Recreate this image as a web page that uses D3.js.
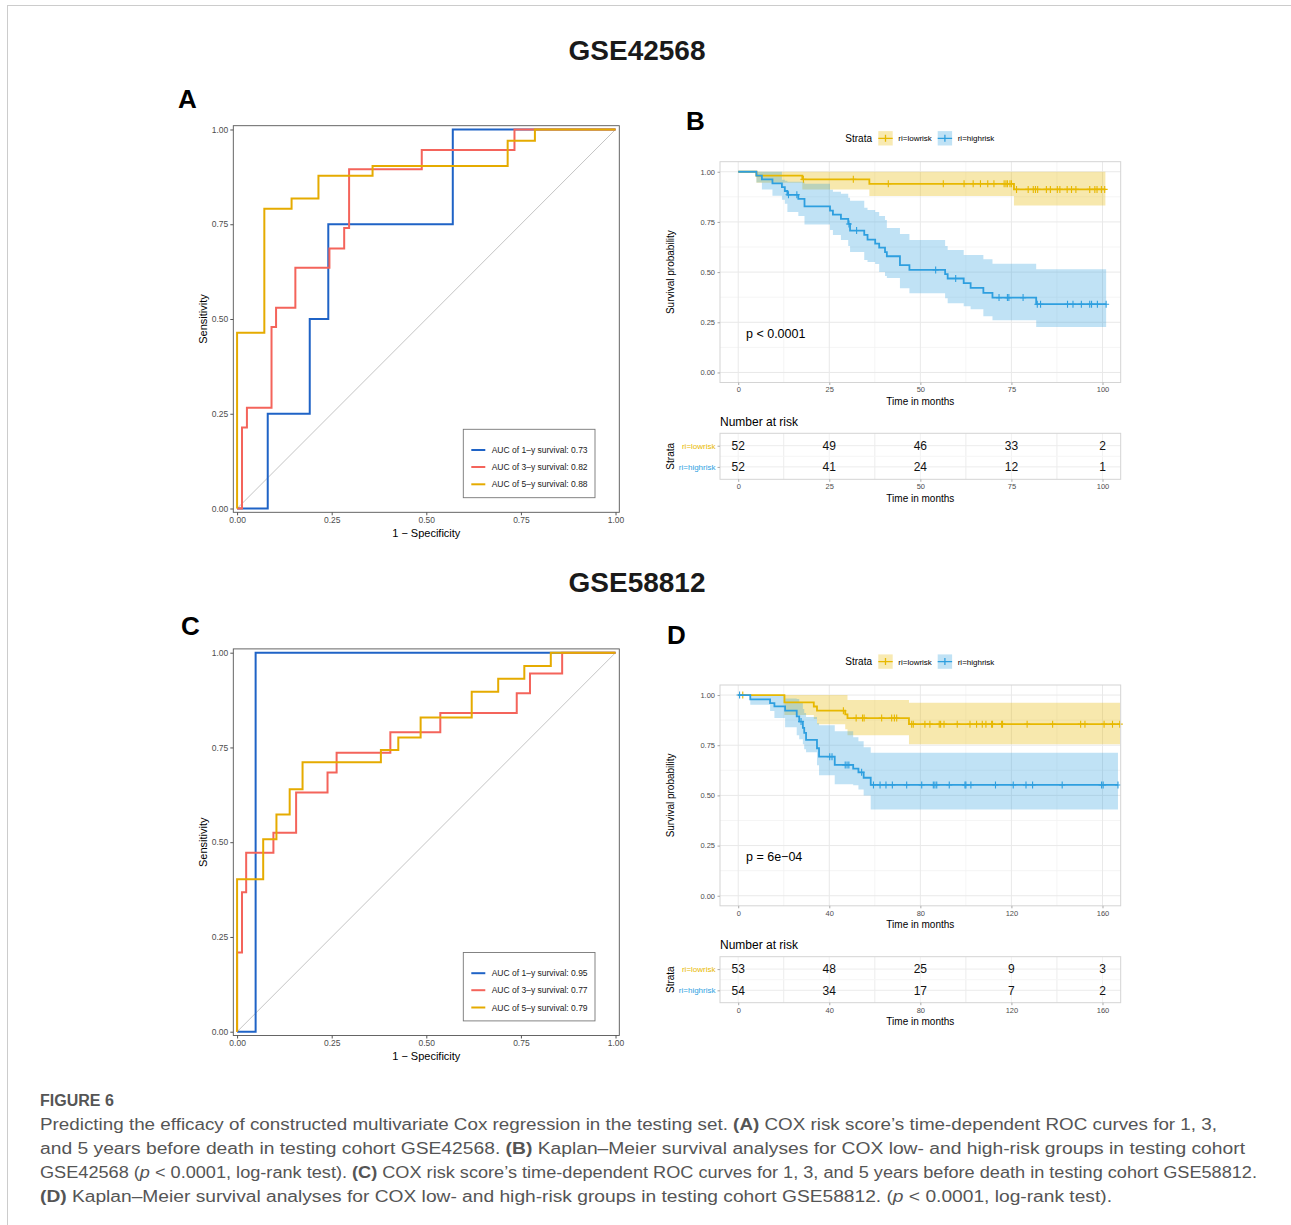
<!DOCTYPE html>
<html>
<head>
<meta charset="utf-8">
<script src="https://cdn.jsdelivr.net/npm/d3@7"></script>
<style>
  body { margin: 0; background: #fff; }
  svg text { font-family: "Liberation Sans", Arial, Helvetica, sans-serif; }
</style>
</head>
<body>
<svg id="fig" width="1291" height="1225"></svg>
<script>
// ---------- data ----------
const cohorts = ["GSE42568", "GSE58812"];
const panelLetters = ["A", "B", "C", "D"];

// ROC curves: corner points [1 - specificity, sensitivity]
const rocLabels = ["AUC of 1\u2013y survival", "AUC of 3\u2013y survival", "AUC of 5\u2013y survival"];
const rocTicks = [0, 0.25, 0.5, 0.75, 1];
const aucA = [0.73, 0.82, 0.88];
const aucC = [0.95, 0.77, 0.79];
const rocA1 = [[0, 0], [0.081, 0.25], [0.192, 0.5], [0.241, 0.75], [0.570, 1], [1, 1]];
const rocA3 = [[0, 0], [0.013, 0.214], [0.026, 0.266], [0.091, 0.479], [0.103, 0.530], [0.154, 0.635],
               [0.244, 0.686], [0.283, 0.740], [0.296, 0.895], [0.488, 0.946], [0.733, 1], [1, 1]];
const rocA5 = [[0, 0], [0, 0.4635], [0.072, 0.791], [0.144, 0.818], [0.215, 0.878], [0.358, 0.904],
               [0.715, 0.970], [0.787, 1], [1, 1]];
const rocC1 = [[0, 0], [0.049, 1], [1, 1]];
const rocC3 = [[0, 0], [0, 0.209], [0.013, 0.368], [0.024, 0.472], [0.096, 0.525], [0.156, 0.631],
               [0.239, 0.684], [0.263, 0.736], [0.405, 0.790], [0.537, 0.841], [0.739, 0.893],
               [0.774, 0.945], [0.859, 1], [1, 1]];
const rocC5 = [[0, 0], [0, 0.402], [0.069, 0.508], [0.104, 0.573], [0.139, 0.640], [0.173, 0.711],
               [0.380, 0.743], [0.426, 0.776], [0.485, 0.829], [0.620, 0.897], [0.690, 0.931],
               [0.759, 0.965], [0.829, 1], [1, 1]];

// Kaplan-Meier: step times, survival, CI lower/upper, censor times, last time
const strataNames = ["ri=lowrisk", "ri=highrisk"];
const surTicks = [0, 0.25, 0.5, 0.75, 1];

const bLowT = [0, 5.0, 17.6, 36.0, 75.7];
const bLowS = [1, 0.981, 0.962, 0.940, 0.912];
const bLowLo = [1, 0.945, 0.912, 0.879, 0.832];
const bLowHi = [1, 1, 1, 1, 1];
const bLowEnd = 100.8;
const bLowCens = [17.9, 31.6, 41.2, 56.3, 62.0, 64.5, 66.5, 68.5, 70.2, 73.0, 73.5, 73.9, 74.6, 75.0,
                  76.4, 79.6, 81.0, 81.6, 82.2, 84.6, 85.7, 87.6, 88.3, 90.3, 91.5, 92.7, 96.5, 97.9,
                  98.5, 99.7, 100.6];

const bHighT = [0, 5.0, 6.5, 9.4, 12.0, 12.8, 13.5, 16.5, 18.2, 25.2, 26.0, 28.2, 30.2, 30.7, 34.6,
                35.5, 37.6, 38.7, 40.3, 40.8, 44.4, 47.0, 56.8, 57.5, 61.9, 63.8, 67.3, 69.8, 81.8];
const bHighS = [1, 0.981, 0.962, 0.942, 0.923, 0.904, 0.885, 0.865, 0.827, 0.806, 0.786, 0.765, 0.740,
                0.707, 0.685, 0.662, 0.642, 0.622, 0.600, 0.579, 0.535, 0.511, 0.490, 0.468, 0.445,
                0.421, 0.397, 0.373, 0.340];
const bHighLo = [1, 0.947, 0.912, 0.88, 0.86, 0.84, 0.80, 0.78, 0.737, 0.71, 0.685, 0.66, 0.63, 0.60,
                 0.56, 0.55, 0.54, 0.50, 0.48, 0.47, 0.42, 0.395, 0.37, 0.345, 0.33, 0.315, 0.28, 0.26,
                 0.226];
const bHighHi = [1, 1, 1, 1, 0.96, 0.955, 0.95, 0.95, 0.94, 0.91, 0.90, 0.89, 0.87, 0.855, 0.82, 0.81,
                 0.80, 0.78, 0.76, 0.72, 0.69, 0.66, 0.63, 0.61, 0.585, 0.585, 0.564, 0.541, 0.514];
const bHighEnd = 101.0;
const bHighCens = [13.8, 16.1, 30.4, 32.5, 54.2, 59.7, 71.6, 73.9, 74.3, 78.2, 82.1, 83.0, 90.4, 91.9,
                   94.2, 96.5, 97.0, 98.6, 101.0];

const dLowT = [0, 20.3, 33.2, 34.6, 47.0, 48.0, 75.0];
const dLowS = [1, 0.963, 0.943, 0.922, 0.904, 0.885, 0.855];
const dLowLo = [1, 0.90, 0.88, 0.855, 0.83, 0.80, 0.755];
const dLowHi = [1, 1, 1, 1, 1, 0.975, 0.962];
const dLowEnd = 167.8;
const dLowCens = [2.0, 46.2, 51.8, 54.6, 55.3, 63.0, 67.4, 68.6, 69.6, 76.2, 76.9, 82.0, 84.2, 88.3,
                  88.9, 90.4, 96.2, 101.8, 104.7, 107.2, 108.8, 111.3, 111.7, 115.7, 116.1, 126.9,
                  138.1, 150.4, 152.3, 160.7, 164.4, 167.6];

const dHighT = [0, 5.3, 14.0, 15.9, 20.6, 25.7, 26.8, 28.4, 29.0, 29.8, 34.6, 35.5, 42.4, 50.5, 52.8,
                55.1, 58.2];
const dHighS = [1, 0.978, 0.96, 0.944, 0.922, 0.894, 0.868, 0.836, 0.811, 0.777, 0.735, 0.693, 0.652,
                0.633, 0.615, 0.588, 0.552];
const dHighLo = [1, 0.952, 0.92, 0.886, 0.84, 0.80, 0.78, 0.755, 0.73, 0.715, 0.65, 0.60, 0.555, 0.55,
                 0.53, 0.50, 0.43];
const dHighHi = [1, 1, 1, 1, 0.983, 0.98, 0.96, 0.93, 0.91, 0.89, 0.86, 0.85, 0.82, 0.79, 0.77, 0.74,
                 0.713];
const dHighEnd = 166.8;
const dHighCens = [0.6, 27.6, 40.2, 41.2, 47.0, 47.8, 48.6, 54.2, 59.4, 62.3, 64.9, 67.7, 74.0, 80.6,
                   85.7, 86.4, 87.2, 92.7, 99.6, 100.0, 102.2, 113.0, 120.8, 126.4, 129.3, 142.3, 159.6,
                   160.3, 166.8];

const pTextB = "p < 0.0001";
const pTextD = "p = 6e\u221204";
const timeTicksB = [0, 25, 50, 75, 100];
const timeTicksD = [0, 40, 80, 120, 160];
const riskLowB = [52, 49, 46, 33, 2];
const riskHighB = [52, 41, 24, 12, 1];
const riskLowD = [53, 48, 25, 9, 3];
const riskHighD = [54, 34, 17, 7, 2];

// caption: [text, style] segments per line
const captionTitle = "FIGURE 6";
const captionLines = [
  [["Predicting the efficacy of constructed multivariate Cox regression in the testing set. ", ""], ["(A)", "b"],
   [" COX risk score\u2019s time-dependent ROC curves for 1, 3,", ""]],
  [["and 5 years before death in testing cohort GSE42568. ", ""], ["(B)", "b"],
   [" Kaplan\u2013Meier survival analyses for COX low- and high-risk groups in testing cohort", ""]],
  [["GSE42568 (", ""], ["p", "i"], [" < 0.0001, log-rank test). ", ""], ["(C)", "b"],
   [" COX risk score\u2019s time-dependent ROC curves for 1, 3, and 5 years before death in testing cohort GSE58812.", ""]],
  [["(D)", "b"], [" Kaplan\u2013Meier survival analyses for COX low- and high-risk groups in testing cohort GSE58812. (", ""],
   ["p", "i"], [" < 0.0001, log-rank test).", ""]]
];
const captionWidths = [1177, 1205, 1217, 1072];

// ---------- styles ----------
const rocColors = ["#1f63c6", "#f4645b", "#e5ab00"];
const lowColor = "#E7B800", highColor = "#2E9FDF";
const FONT = '"Liberation Sans", Arial, Helvetica, sans-serif';

const svg = d3.select("#fig");

// light frame round the figure
svg.append("rect").attr("x", 7.5).attr("y", 5.5).attr("width", 1300).attr("height", 1300)
  .attr("fill", "none").attr("stroke", "#cccccc");

// cohort titles
[60, 592].forEach((yy, i) => {
  svg.append("text").attr("x", 637).attr("y", yy).attr("text-anchor", "middle")
    .attr("font-size", 28).attr("font-weight", "bold").attr("fill", "#1a1a1a").text(cohorts[i]);
});

// panel letters
[[178, 108], [686, 130], [181, 635], [667, 644]].forEach((p, i) => {
  svg.append("text").attr("x", p[0]).attr("y", p[1]).attr("font-size", 26)
    .attr("font-weight", "bold").attr("fill", "#000").text(panelLetters[i]);
});

function styleAxis(sel, size, color, tickColor) {
  sel.attr("font-family", FONT).attr("font-size", size);
  sel.select(".domain").remove();
  sel.selectAll(".tick line").attr("stroke", tickColor);
  sel.selectAll(".tick text").attr("fill", color);
}

// ---------- ROC panel ----------
function drawRoc(top, curves, aucs) {
  const left = 233.3, right = 619.3, bottom = top + 386.6;
  const x = d3.scaleLinear().domain([-0.01, 1.01]).range([left, right]);
  const y = d3.scaleLinear().domain([-0.01, 1.01]).range([bottom, top]);
  const g = svg.append("g");

  g.append("line").attr("x1", x(0)).attr("y1", y(0)).attr("x2", x(1)).attr("y2", y(1))
    .attr("stroke", "#c4c4c4").attr("stroke-width", 1);

  const line = d3.line().x(d => x(d[0])).y(d => y(d[1])).curve(d3.curveStepAfter);
  curves.forEach((c, i) => {
    g.append("path").attr("d", line(c)).attr("fill", "none")
      .attr("stroke", rocColors[i]).attr("stroke-width", 2);
  });

  g.append("rect").attr("x", left).attr("y", top).attr("width", right - left).attr("height", bottom - top)
    .attr("fill", "none").attr("stroke", "#555").attr("stroke-width", 0.9);

  const fmt = d3.format(".2f");
  g.append("g").attr("transform", `translate(0,${bottom})`)
    .call(d3.axisBottom(x).tickValues(rocTicks).tickFormat(fmt).tickSize(3).tickPadding(1.5))
    .call(s => styleAxis(s, 8.5, "#4d4d4d", "#555"));
  g.append("g").attr("transform", `translate(${left},0)`)
    .call(d3.axisLeft(y).tickValues(rocTicks).tickFormat(fmt).tickSize(3).tickPadding(2))
    .call(s => styleAxis(s, 8.5, "#4d4d4d", "#555"));

  g.append("text").attr("x", (left + right) / 2).attr("y", bottom + 24.3).attr("text-anchor", "middle")
    .attr("font-size", 11).text("1 \u2212 Specificity");
  g.append("text").attr("transform", `translate(206.5,${(top + bottom) / 2}) rotate(-90)`)
    .attr("text-anchor", "middle").attr("font-size", 11).text("Sensitivity");

  // legend
  const lx = 463.3, ly = top + 303.6;
  g.append("rect").attr("x", lx).attr("y", ly).attr("width", 131.7).attr("height", 68.4)
    .attr("fill", "#fff").attr("stroke", "#777").attr("stroke-width", 0.9);
  [20.7, 37.7, 55].forEach((dy, i) => {
    g.append("line").attr("x1", lx + 8).attr("x2", lx + 22).attr("y1", ly + dy).attr("y2", ly + dy)
      .attr("stroke", rocColors[i]).attr("stroke-width", 2);
    g.append("text").attr("x", lx + 28.4).attr("y", ly + dy + 3).attr("font-size", 8.5)
      .attr("fill", "#1a1a1a").text(rocLabels[i] + ": " + aucs[i].toFixed(2));
  });
}

// ---------- Kaplan-Meier panel ----------
function drawKm(top, xMax, ticks, groups, pText) {
  const left = 720, right = 1120.7, bottom = top + 220.8;
  const pad = xMax * 0.05;
  const x = d3.scaleLinear().domain([-pad, xMax + pad]).range([left, right]);
  const y = d3.scaleLinear().domain([-0.05, 1.05]).range([bottom, top]);
  const g = svg.append("g");

  // grid
  const step = ticks[1] - ticks[0];
  const minorX = ticks.slice(0, -1).map(t => t + step / 2);
  const minorY = surTicks.slice(0, -1).map(t => t + 0.125);
  g.selectAll(".mx").data(minorX).enter().append("line")
    .attr("x1", d => x(d)).attr("x2", d => x(d)).attr("y1", top).attr("y2", bottom)
    .attr("stroke", "#f3f3f3").attr("stroke-width", 0.8);
  g.selectAll(".my").data(minorY).enter().append("line")
    .attr("y1", d => y(d)).attr("y2", d => y(d)).attr("x1", left).attr("x2", right)
    .attr("stroke", "#f3f3f3").attr("stroke-width", 0.8);
  g.selectAll(".gx").data(ticks).enter().append("line")
    .attr("x1", d => x(d)).attr("x2", d => x(d)).attr("y1", top).attr("y2", bottom)
    .attr("stroke", "#e9e9e9").attr("stroke-width", 1);
  g.selectAll(".gy").data(surTicks).enter().append("line")
    .attr("y1", d => y(d)).attr("y2", d => y(d)).attr("x1", left).attr("x2", right)
    .attr("stroke", "#e9e9e9").attr("stroke-width", 1);

  const area = d3.area().x(d => x(d.t)).y0(d => y(d.lo)).y1(d => y(d.hi)).curve(d3.curveStepAfter);
  const line = d3.line().x(d => x(d.t)).y(d => y(d.s)).curve(d3.curveStepAfter);
  const pts = groups.map(gr => {
    const p = gr.t.map((t, i) => ({ t: t, s: gr.s[i], lo: gr.lo[i], hi: gr.hi[i] }));
    const last = p[p.length - 1];
    p.push({ t: gr.end, s: last.s, lo: last.lo, hi: last.hi });
    return p;
  });

  groups.forEach((gr, k) => {
    g.append("path").attr("d", area(pts[k])).attr("fill", gr.color).attr("fill-opacity", k === 0 ? 0.32 : 0.3);
  });
  groups.forEach((gr, k) => {
    g.append("path").attr("d", line(pts[k])).attr("fill", "none")
      .attr("stroke", gr.color).attr("stroke-width", 1.8);
    gr.cens.forEach(c => {
      const sv = gr.s[d3.bisectRight(gr.t, c) - 1];
      g.append("path").attr("d", `M${x(c)},${y(sv) - 3.5}v7M${x(c) - 3},${y(sv)}h6`)
        .attr("stroke", gr.color).attr("stroke-width", 1.1).attr("fill", "none");
    });
  });

  g.append("rect").attr("x", left).attr("y", top).attr("width", right - left).attr("height", bottom - top)
    .attr("fill", "none").attr("stroke", "#d4d4d4").attr("stroke-width", 1);

  g.append("g").attr("transform", `translate(0,${bottom})`)
    .call(d3.axisBottom(x).tickValues(ticks).tickSize(2.5).tickPadding(2))
    .call(s => styleAxis(s, 7.5, "#4d4d4d", "#aaa"));
  g.append("g").attr("transform", `translate(${left},0)`)
    .call(d3.axisLeft(y).tickValues(surTicks).tickFormat(d3.format(".2f")).tickSize(2.5).tickPadding(2.5))
    .call(s => styleAxis(s, 7.5, "#4d4d4d", "#aaa"));

  g.append("text").attr("x", (left + right) / 2).attr("y", bottom + 22).attr("text-anchor", "middle")
    .attr("font-size", 10).text("Time in months");
  g.append("text").attr("transform", `translate(673.5,${(top + bottom) / 2}) rotate(-90)`)
    .attr("text-anchor", "middle").attr("font-size", 10).text("Survival probability");

  g.append("text").attr("x", 746).attr("y", top + 171.6 + 4.5).attr("font-size", 12.5).text(pText);

  // legend
  const ly = top - 23.4;
  g.append("text").attr("x", 845.3).attr("y", ly + 3.6).attr("font-size", 10).text("Strata");
  [[878.3, 898.3], [937.7, 957.7]].forEach((p, k) => {
    const c = groups[k].color;
    g.append("rect").attr("x", p[0]).attr("y", ly - 7.2).attr("width", 14.4).attr("height", 14.4)
      .attr("fill", c).attr("fill-opacity", 0.3);
    g.append("path").attr("d", `M${p[0]},${ly}h14.4M${p[0] + 7.2},${ly - 3.5}v7`)
      .attr("stroke", c).attr("stroke-width", 1.3).attr("fill", "none");
    g.append("text").attr("x", p[1]).attr("y", ly + 3).attr("font-size", 8).text(strataNames[k]);
  });
}

// ---------- risk table ----------
function drawRisk(top, xMax, ticks, lowCounts, highCounts) {
  const left = 720, right = 1120.7, bottom = top + 46;
  const pad = xMax * 0.05;
  const x = d3.scaleLinear().domain([-pad, xMax + pad]).range([left, right]);
  const yRow = d3.scalePoint().domain(strataNames).range([top + 12.4, bottom - 12.4]);
  const g = svg.append("g");
  const step = ticks[1] - ticks[0];
  const minorX = ticks.slice(0, -1).map(t => t + step / 2);

  g.selectAll(".mx").data(minorX).enter().append("line")
    .attr("x1", d => x(d)).attr("x2", d => x(d)).attr("y1", top).attr("y2", bottom)
    .attr("stroke", "#ececec");
  g.selectAll(".gx").data(ticks).enter().append("line")
    .attr("x1", d => x(d)).attr("x2", d => x(d)).attr("y1", top).attr("y2", bottom)
    .attr("stroke", "#f2f2f2");
  g.selectAll(".gy").data(strataNames).enter().append("line")
    .attr("y1", d => yRow(d)).attr("y2", d => yRow(d)).attr("x1", left).attr("x2", right)
    .attr("stroke", "#ececec");
  g.append("line").attr("x1", left).attr("x2", right)
    .attr("y1", (yRow(strataNames[0]) + yRow(strataNames[1])) / 2)
    .attr("y2", (yRow(strataNames[0]) + yRow(strataNames[1])) / 2).attr("stroke", "#f5f5f5");
  g.append("rect").attr("x", left).attr("y", top).attr("width", right - left).attr("height", bottom - top)
    .attr("fill", "none").attr("stroke", "#d4d4d4");

  [lowCounts, highCounts].forEach((counts, k) => {
    g.selectAll(".n" + k).data(counts).enter().append("text")
      .attr("x", (d, i) => x(ticks[i])).attr("y", yRow(strataNames[k]) + 4.3)
      .attr("text-anchor", "middle").attr("font-size", 12).attr("fill", "#111").text(d => d);
  });

  g.append("g").attr("transform", `translate(0,${bottom})`)
    .call(d3.axisBottom(x).tickValues(ticks).tickSize(2.5).tickPadding(2))
    .call(s => styleAxis(s, 7.5, "#4d4d4d", "#aaa"));
  const ya = g.append("g").attr("transform", `translate(${left},0)`)
    .call(d3.axisLeft(yRow).tickSize(2.5).tickPadding(2))
    .call(s => styleAxis(s, 8, "#4d4d4d", "#aaa"));
  ya.selectAll(".tick text").attr("fill", (d, i) => i === 0 ? lowColor : highColor);

  g.append("text").attr("x", left).attr("y", top - 7.4).attr("font-size", 12).text("Number at risk");
  g.append("text").attr("x", (left + right) / 2).attr("y", bottom + 22.5).attr("text-anchor", "middle")
    .attr("font-size", 10).text("Time in months");
  g.append("text").attr("transform", `translate(673.5,${(top + bottom) / 2}) rotate(-90)`)
    .attr("text-anchor", "middle").attr("font-size", 10).text("Strata");
}

// ---------- draw ----------
drawRoc(125.7, [rocA1, rocA3, rocA5], aucA);
drawRoc(648.9, [rocC1, rocC3, rocC5], aucC);

drawKm(161.7, 100, timeTicksB, [
  { t: bLowT, s: bLowS, lo: bLowLo, hi: bLowHi, end: bLowEnd, cens: bLowCens, color: lowColor },
  { t: bHighT, s: bHighS, lo: bHighLo, hi: bHighHi, end: bHighEnd, cens: bHighCens, color: highColor }
], pTextB);
drawKm(685, 160, timeTicksD, [
  { t: dLowT, s: dLowS, lo: dLowLo, hi: dLowHi, end: dLowEnd, cens: dLowCens, color: lowColor },
  { t: dHighT, s: dHighS, lo: dHighLo, hi: dHighHi, end: dHighEnd, cens: dHighCens, color: highColor }
], pTextD);

drawRisk(433.3, 100, timeTicksB, riskLowB, riskHighB);
drawRisk(956.7, 160, timeTicksD, riskLowD, riskHighD);

// ---------- caption ----------
const CAP_FONT = '"Open Sans", "Noto Sans", sans-serif';
svg.append("text").attr("x", 40).attr("y", 1106).attr("font-family", CAP_FONT)
  .attr("font-size", 16).attr("font-weight", 600).attr("fill", "#555").text(captionTitle);
captionLines.forEach((segs, li) => {
  const t = svg.append("text").attr("x", 40).attr("y", 1129.5 + li * 24)
    .attr("font-family", CAP_FONT).attr("font-size", 16).attr("fill", "#555")
    .attr("textLength", captionWidths[li]).attr("lengthAdjust", "spacingAndGlyphs");
  segs.forEach(s => {
    const ts = t.append("tspan").text(s[0]);
    if (s[1] === "b") ts.attr("font-weight", "bold");
    if (s[1] === "i") ts.attr("font-style", "italic");
  });
});
</script>
</body>
</html>
